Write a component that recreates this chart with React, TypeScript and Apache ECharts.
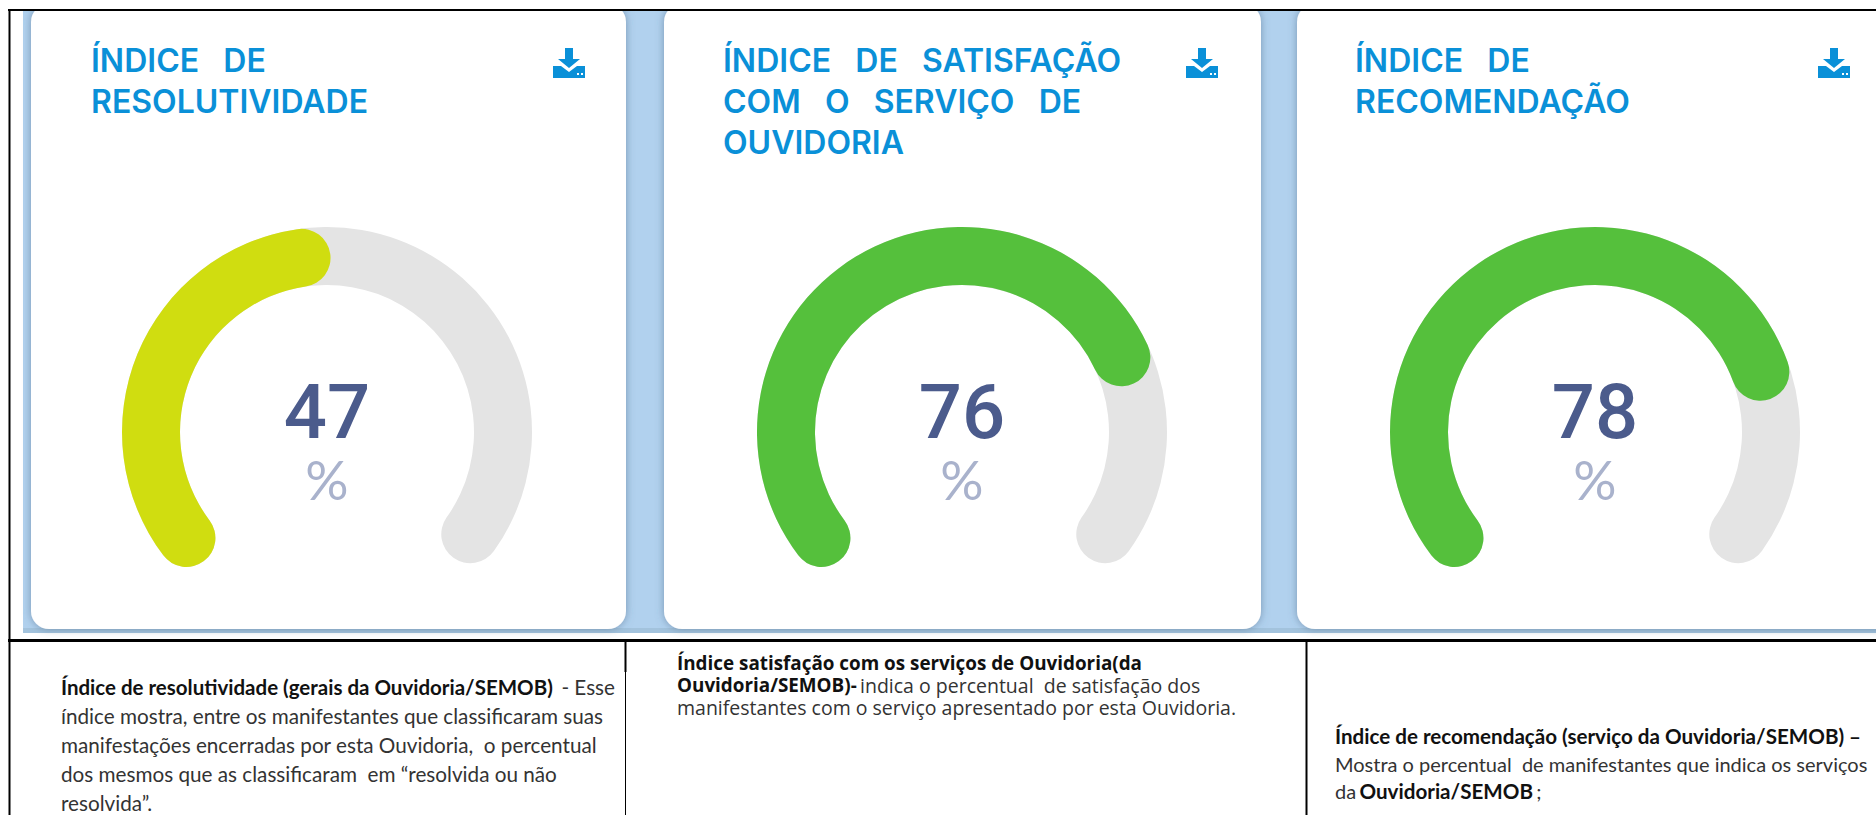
import React, { useEffect, useRef } from "react";
import * as echarts from "echarts";

const indexValues = [47, 76, 78];
const gaugeColors = ["#d0dd10", "#55c03c", "#55c03c"];
const unitLabel = "%";
const cardTitles = [
  "ÍNDICE   DE\nRESOLUTIVIDADE",
  "ÍNDICE   DE   SATISFAÇÃO\nCOM   O   SERVIÇO   DE\nOUVIDORIA",
  "ÍNDICE   DE\nRECOMENDAÇÃO",
];
const desc1 = [
  "{b|Índice de resolutividade (gerais da Ouvidoria/SEMOB)} {n| - Esse}",
  "{n|índice mostra, entre os manifestantes que classificaram suas}",
  "{n|manifestações encerradas por esta Ouvidoria,  o percentual}",
  "{n|dos mesmos que as classificaram  em “resolvida ou não}",
  "{n|resolvida”.}",
];
const desc2 = [
  "{b|Índice satisfação com os serviços de Ouvidoria(da}",
  "{b|Ouvidoria/SEMOB)-} {n|indica o percentual  de satisfação dos}",
  "{n|manifestantes com o serviço apresentado por esta Ouvidoria.}",
];
const desc3 = [
  "{b|Índice de recomendação (serviço da Ouvidoria/SEMOB) –}",
  "{n|Mostra o percentual  de manifestantes que indica os serviços}",
  "{n|da} {b|Ouvidoria/SEMOB} {n|;}",
];

const cardX = [31, 664, 1297];
const cardW = [595, 597, 600];
const centersX = [327, 962, 1595];
const titleX = [91, 723, 1355];
const iconX = [553, 1186, 1818];

const ICON =
  "M12 0h8v11h7L16 20 5 11h7zM0 18h8l8 6 8-6h8v12H0zM24 25v2h2v-2zM28 25v2h2v-2z";
echarts.graphic.registerShape("downloadIcon", echarts.graphic.extendPath(ICON, {}));

const line = (x1: number, y1: number, x2: number, y2: number, w: number) => ({
  type: "line",
  shape: { x1, y1, x2, y2 },
  style: { stroke: "#000", lineWidth: w },
  z: 5,
});

const descText = (
  lines: string[],
  x: number,
  y: number,
  lh: number,
  font: string,
  bSize: number,
  nSize: number,
) =>
  lines.map((t, i) => ({
    type: "text",
    x,
    y: y + i * lh,
    z: 4,
    style: {
      text: t,
      fill: "#222",
      verticalAlign: "middle",
      rich: {
        b: { fontFamily: font, fontSize: bSize, fontWeight: 700, fill: "#111", lineHeight: lh - 1 },
        n: { fontFamily: font, fontSize: nSize, fontWeight: 400, fill: "#333", lineHeight: lh - 1 },
      },
    },
  }));

export default function App() {
  const ref = useRef<HTMLDivElement>(null);
  useEffect(() => {
    document.body.style.margin = "0";
    const chart = echarts.init(ref.current!, null, { renderer: "svg" });
    chart.setOption({
      animation: false,
      backgroundColor: "#fff",
      graphic: [
        {
          type: "rect",
          z: 0,
          shape: { x: 23, y: 11, width: 1853, height: 622 },
          style: { fill: "#b1d1ee" },
        },
        {
          type: "rect",
          z: 0,
          shape: { x: 23, y: 628, width: 1853, height: 5 },
          style: { fill: "#a3c3dd" },
        },
        ...cardX.map((x, i) => ({
          type: "rect",
          z: 1,
          shape: { x, y: 4, width: cardW[i], height: 625, r: 18 },
          style: { fill: "#fff", shadowBlur: 8, shadowColor: "rgba(70,100,130,0.55)" },
        })),
        {
          type: "rect",
          z: 2,
          shape: { x: 0, y: 0, width: 1876, height: 10 },
          style: { fill: "#fff" },
        },
        line(8, 10, 1876, 10, 2),
        line(9.5, 10, 9.5, 815, 2),
        line(8, 640.5, 1876, 640.5, 3),
        line(625.5, 640, 625.5, 672, 2),
        line(625.5, 672, 625.5, 815, 1),
        line(1306.5, 640, 1306.5, 815, 2),
        ...cardTitles.map((t, i) => ({
          type: "text",
          x: titleX[i],
          y: 40,
          z: 4,
          style: {
            text: t,
            fill: "#0a90d8",
            fontFamily: "Inter",
            fontWeight: 600,
            fontSize: 32,
            lineHeight: 41,
          },
        })),
        ...iconX.map((x) => ({
          type: "downloadIcon",
          x,
          y: 48,
          z: 4,
          style: { fill: "#0a90d8" },
        })),
        ...descText(desc1, 61, 687, 29, "Lato", 20.5, 20.7),
        ...descText(desc2, 677, 663, 22, "Open Sans", 18.85, 19.5),
        ...descText(desc3, 1335, 736, 27.5, "Lato", 20.6, 20),
      ],
      series: indexValues.map((v, i) => ({
        type: "gauge",
        center: [centersX[i], 432],
        radius: 205,
        startAngle: 217,
        endAngle: -35.5,
        min: 0,
        max: 100,
        z: 3,
        pointer: { show: false },
        axisTick: { show: false },
        splitLine: { show: false },
        axisLabel: { show: false },
        axisLine: { roundCap: true, lineStyle: { width: 58, color: [[1, "#e4e4e4"]] } },
        progress: { show: true, width: 58, roundCap: true, itemStyle: { color: gaugeColors[i] } },
        title: {
          offsetCenter: [0, 47],
          fontFamily: "Lato",
          fontWeight: 400,
          fontSize: 54,
          color: "#a9b2cc",
        },
        detail: {
          offsetCenter: [0, -20],
          valueAnimation: false,
          fontFamily: "Roboto",
          fontWeight: 500,
          fontSize: 76,
          color: "#4b5b8c",
          formatter: "{value}",
        },
        data: [{ value: v, name: unitLabel }],
      })),
    });
    return () => chart.dispose();
  }, []);
  return <div ref={ref} style={{ width: 1876, height: 815 }} />;
}
